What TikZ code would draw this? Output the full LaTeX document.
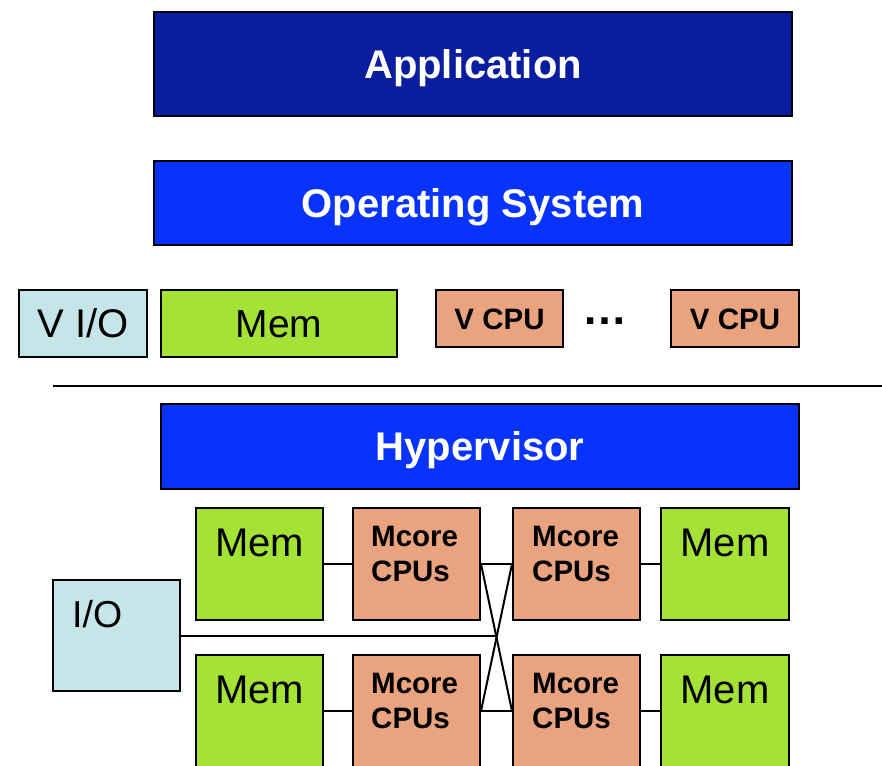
\documentclass[tikz,border=0pt]{standalone}
\usepackage{fontspec}
\setmainfont{Liberation Sans}
\usetikzlibrary{calc}
\definecolor{appblue}{HTML}{0A1D9E}
\definecolor{brblue}{HTML}{0733FD}
\definecolor{ltblue}{HTML}{C6E5E9}
\definecolor{lgreen}{HTML}{A4E236}
\definecolor{salmon}{HTML}{E9A37F}
\begin{document}
\begin{tikzpicture}[x=1pt,y=-1pt,
  box/.style={draw=black, line width=2pt, inner sep=0pt, text depth=0pt},
  bigbold/.style={font=\fontsize{40}{48}\selectfont\bfseries, text=white, text height=28.6pt},
  regtxt/.style={font=\fontsize{40}{48}\selectfont, inner sep=0pt},
  smbold/.style={font=\fontsize{29.5}{35}\selectfont\bfseries, inner sep=0pt},
  conn/.style={draw=black, line width=2pt},
  membox/.style={box, fill=lgreen, minimum width=127pt, minimum height=112pt},
  cpubox/.style={box, fill=salmon, minimum width=127pt, minimum height=112pt},
]
\useasboundingbox (0,0) rectangle (882,765);
\clip (0,0) rectangle (882,765);

% upper stack
\node[box, fill=appblue, bigbold, minimum width=638pt, minimum height=104pt] (app) at (473,64) {Application};
\node[box, fill=brblue, bigbold, minimum width=638pt, minimum height=84pt] (os) at (473,203) {Operating System};

\node[box, fill=ltblue, font=\fontsize{40}{48}\selectfont, text height=28.6pt, minimum width=128pt, minimum height=67pt] (vio) at (83,323.5) {V I/O};
\node[box, fill=lgreen, font=\fontsize{39}{47}\selectfont, text height=27.9pt, minimum width=236pt, minimum height=67pt] (vmem) at (279,323.5) {Mem};
\node[box, fill=salmon, font=\fontsize{29.5}{35}\selectfont\bfseries, text height=21.1pt, minimum width=127pt, minimum height=57pt] (vcpu1) at (499.5,318.5) {V CPU};
\node[font=\fontsize{45}{54}\selectfont\bfseries, anchor=base, inner sep=0pt] (dots) at (604.5,324) {…};
\node[box, fill=salmon, font=\fontsize{29.5}{35}\selectfont\bfseries, text height=21.1pt, minimum width=128pt, minimum height=57pt] (vcpu2) at (735,318.5) {V CPU};

% separator
\coordinate (hl1) at (53,386);
\coordinate (hl2) at (882,386);
\draw[conn] (hl1) -- (hl2);

\node[box, fill=brblue, bigbold, minimum width=638pt, minimum height=85pt] (hyp) at (480,446) {Hypervisor};

% hardware boxes
\node[membox] (m1) at (259.5,564) {};
\node[cpubox] (c1) at (416.5,564) {};
\node[cpubox] (c2) at (576.5,564) {};
\node[membox, minimum width=128pt] (m2) at (725,564) {};
\node[box, fill=ltblue, minimum width=127pt, minimum height=111pt] (io) at (116.5,635.5) {};
\node[membox] (m3) at (259.5,711) {};
\node[cpubox] (c3) at (416.5,711) {};
\node[cpubox] (c4) at (576.5,711) {};
\node[membox, minimum width=128pt] (m4) at (725,711) {};

% connectors
\draw[conn] (m1.east) -- (c1.west);
\draw[conn] (c1.east) -- (c2.west);
\draw[conn] (c2.east) -- (m2.west);
\draw[conn] (m3.east) -- (c3.west);
\draw[conn] (c3.east) -- (c4.west);
\draw[conn] (c4.east) -- (m4.west);
\draw[conn] (c1.east) -- (c4.west);
\draw[conn] (c3.east) -- (c2.west);
\coordinate (xc) at (intersection of c1.east--c4.west and c3.east--c2.west);
\draw[conn] (io.east) -- (io.east -| xc);

% labels in hardware boxes
\node[regtxt, anchor=base] (m1t) at ($(m1.north)+(0,49)$) {Mem};
\node[regtxt, anchor=base] (m2t) at ($(m2.north)+(0,49)$) {Mem};
\node[regtxt, anchor=base] (m3t) at ($(m3.north)+(0,49)$) {Mem};
\node[regtxt, anchor=base] (m4t) at ($(m4.north)+(0,49)$) {Mem};
\node[font=\fontsize{37.5}{45}\selectfont, inner sep=0pt, anchor=base west] (iot) at ($(io.north west)+(20,48)$) {I/O};
\node[smbold, anchor=base west, align=left] (c1t) at ($(c1.north west)+(19,74)$) {Mcore\\CPUs};
\node[smbold, anchor=base west, align=left] (c2t) at ($(c2.north west)+(20,74)$) {Mcore\\CPUs};
\node[smbold, anchor=base west, align=left] (c3t) at ($(c3.north west)+(19,74)$) {Mcore\\CPUs};
\node[smbold, anchor=base west, align=left] (c4t) at ($(c4.north west)+(20,74)$) {Mcore\\CPUs};
\end{tikzpicture}
\end{document}
